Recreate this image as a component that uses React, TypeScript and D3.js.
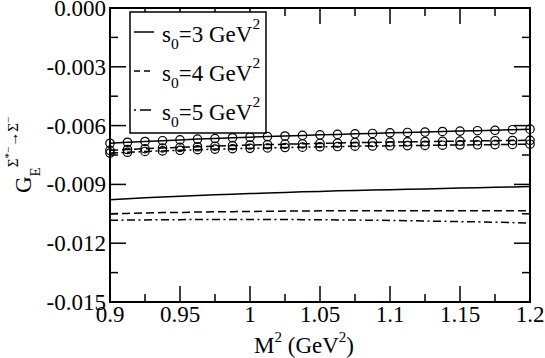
import React from "react";
import * as d3 from "d3";

// M^2 grid (GeV^2)
const M2 = [0.9, 0.9125, 0.925, 0.9375, 0.95, 0.9625, 0.975, 0.9875, 1.0, 1.0125, 1.025, 1.0375, 1.05,
  1.0625, 1.075, 1.0875, 1.1, 1.1125, 1.125, 1.1375, 1.15, 1.1625, 1.175, 1.1875, 1.2];

// plain curves
const s3Line = [-0.00978, -0.00973, -0.00968, -0.00964, -0.0096, -0.00956, -0.00953, -0.0095, -0.00947,
  -0.00944, -0.00941, -0.00938, -0.00936, -0.00933, -0.00931, -0.00929, -0.00927, -0.00925, -0.00923,
  -0.00921, -0.00919, -0.00917, -0.00915, -0.00913, -0.00911];
const s4Line = [-0.0105, -0.01048, -0.01046, -0.01044, -0.01043, -0.01041, -0.0104, -0.01039, -0.01038,
  -0.01037, -0.01036, -0.01036, -0.01035, -0.01035, -0.01034, -0.01034, -0.01034, -0.01034, -0.01034,
  -0.01034, -0.01034, -0.01034, -0.01034, -0.01034, -0.01035];
const s5Line = [-0.01083, -0.01082, -0.01081, -0.0108, -0.0108, -0.01079, -0.01079, -0.01079, -0.01079,
  -0.01079, -0.01079, -0.0108, -0.0108, -0.01081, -0.01082, -0.01083, -0.01084, -0.01085, -0.01087,
  -0.01088, -0.0109, -0.01091, -0.01093, -0.01095, -0.01097];

// curves with circle markers
const s3Circ = [-0.0069, -0.00685, -0.00681, -0.00677, -0.00673, -0.00669, -0.00666, -0.00662, -0.00659,
  -0.00656, -0.00653, -0.0065, -0.00647, -0.00645, -0.00642, -0.0064, -0.00637, -0.00635, -0.00633,
  -0.0063, -0.00628, -0.00626, -0.00624, -0.00621, -0.00618];
const s4Circ = [-0.00726, -0.00722, -0.00718, -0.00714, -0.00711, -0.00708, -0.00705, -0.00702, -0.00699,
  -0.00697, -0.00695, -0.00693, -0.00691, -0.00689, -0.00687, -0.00686, -0.00684, -0.00683, -0.00682,
  -0.0068, -0.00679, -0.00678, -0.00677, -0.00676, -0.00675];
const s5Circ = [-0.0074, -0.00736, -0.00732, -0.00729, -0.00726, -0.00723, -0.0072, -0.00718, -0.00716,
  -0.00714, -0.00712, -0.0071, -0.00708, -0.00707, -0.00705, -0.00704, -0.00703, -0.00702, -0.00701,
  -0.007, -0.00699, -0.00698, -0.00697, -0.00696, -0.00695];

const xTicks = [0.9, 0.95, 1.0, 1.05, 1.1, 1.15, 1.2];
const xTickLabels = ["0.9", "0.95", "1", "1.05", "1.1", "1.15", "1.2"];
const xMinor = [0.925, 0.975, 1.025, 1.075, 1.125, 1.175];
const yTicks = [0, -0.003, -0.006, -0.009, -0.012, -0.015];
const yTickLabels = ["0.000", "-0.003", "-0.006", "-0.009", "-0.012", "-0.015"];
const yMinor = [-0.0015, -0.0045, -0.0075, -0.0105, -0.0135];
const legendValues = ["3", "4", "5"];

const W = 545, H = 358;
const L = 110, R = 530, T = 8, B = 302;
const FONT = '"Liberation Serif", "Times New Roman", "DejaVu Serif", serif';
const DASH = "8,4";
const DASHDOT = "8,3.5,2,3.5";
const tStyle: React.CSSProperties = { fontFamily: FONT };

export default function App() {
  const x = d3.scaleLinear().domain([0.9, 1.2]).range([L, R]);
  const y = d3.scaleLinear().domain([-0.015, 0]).range([B, T]);
  const line = d3.line<number>().x((_, i) => x(M2[i])).y((d) => y(d));

  const plain = [
    { v: s3Line, dash: undefined },
    { v: s4Line, dash: DASH },
    { v: s5Line, dash: DASHDOT },
  ];
  const circ = [
    { v: s3Circ, dash: undefined },
    { v: s4Circ, dash: DASH },
    { v: s5Circ, dash: DASHDOT },
  ];
  const MAJ = 16, MIN = 8;

  return (
    <svg width={W} height={H} style={{ position: "absolute", left: 0, top: 0, background: "#fff", fontFamily: FONT }}>
      <rect x={0} y={0} width={W} height={H} fill="#fff" />
      {/* data lines */}
      {plain.map((s, k) => (
        <path key={"p" + k} d={line(s.v) || ""} fill="none" stroke="#000" strokeWidth={1.5}
          strokeDasharray={s.dash} />
      ))}
      {circ.map((s, k) => (
        <g key={"c" + k}>
          <path d={line(s.v) || ""} fill="none" stroke="#000" strokeWidth={1.5} strokeDasharray={s.dash} />
          {s.v.map((d, i) => (
            <circle key={i} cx={x(M2[i])} cy={y(d)} r={4.2} fill="none" stroke="#000" strokeWidth={1.2} />
          ))}
        </g>
      ))}
      {/* ticks */}
      {xTicks.map((t) => (
        <g key={"xt" + t}>
          <line x1={x(t)} x2={x(t)} y1={B} y2={B - MAJ} stroke="#000" strokeWidth={1.5} />
          <line x1={x(t)} x2={x(t)} y1={T} y2={T + MAJ} stroke="#000" strokeWidth={1.5} />
        </g>
      ))}
      {xMinor.map((t) => (
        <g key={"xm" + t}>
          <line x1={x(t)} x2={x(t)} y1={B} y2={B - MIN} stroke="#000" strokeWidth={1.5} />
          <line x1={x(t)} x2={x(t)} y1={T} y2={T + MIN} stroke="#000" strokeWidth={1.5} />
        </g>
      ))}
      {yTicks.map((t) => (
        <g key={"yt" + t}>
          <line x1={L} x2={L + MAJ} y1={y(t)} y2={y(t)} stroke="#000" strokeWidth={1.5} />
          <line x1={R} x2={R - MAJ} y1={y(t)} y2={y(t)} stroke="#000" strokeWidth={1.5} />
        </g>
      ))}
      {yMinor.map((t) => (
        <g key={"ym" + t}>
          <line x1={L} x2={L + MIN} y1={y(t)} y2={y(t)} stroke="#000" strokeWidth={1.5} />
          <line x1={R} x2={R - MIN} y1={y(t)} y2={y(t)} stroke="#000" strokeWidth={1.5} />
        </g>
      ))}
      <rect x={L} y={T} width={R - L} height={B - T} fill="none" stroke="#000" strokeWidth={2} />
      {/* tick labels */}
      {xTicks.map((t, i) => (
        <text key={"xl" + t} x={x(t)} y={B + 20} fontSize={23} textAnchor="middle" style={tStyle}>{xTickLabels[i]}</text>
      ))}
      {yTicks.map((t, i) => (
        <text key={"yl" + t} x={L - 4} y={y(t) + 8} fontSize={23} textAnchor="end" style={tStyle}>{yTickLabels[i]}</text>
      ))}
      {/* axis titles */}
      <text x={304} y={353} fontSize={23} textAnchor="middle" style={tStyle}>
        M<tspan dy={-11} fontSize={15}>2</tspan><tspan dy={11} fontSize={23}> (GeV</tspan>
        <tspan dy={-11} fontSize={15}>2</tspan><tspan dy={11} fontSize={23}>)</tspan>
      </text>
      <text transform={`translate(31,${(T + B) / 2}) rotate(-90)`} fontSize={23} textAnchor="middle" style={tStyle}>
        G<tspan dy={9} fontSize={15}>E</tspan>
        <tspan dy={-22} fontSize={15}>Σ</tspan>
        <tspan dy={-6} fontSize={11}>*−</tspan>
        <tspan dy={6} fontSize={15}>→Σ</tspan>
        <tspan dy={-6} fontSize={11}>−</tspan>
      </text>
      {/* legend */}
      <rect x={130} y={12} width={136} height={121} fill="#fff" stroke="#000" strokeWidth={1.5} />
      {legendValues.map((v, k) => {
        const by = 42 + k * 39;
        const dash = k === 0 ? undefined : k === 1 ? "6,4" : "2,4,9,0";
        return (
          <g key={"lg" + k}>
            <line x1={134} x2={154} y1={by - 10} y2={by - 10} stroke="#000" strokeWidth={1.5}
              strokeDasharray={dash} />
            <text x={162} y={by} fontSize={23} style={tStyle}>
              s<tspan dy={7} fontSize={15.5}>0</tspan>
              <tspan dy={-7} fontSize={23}>={v} GeV</tspan>
              <tspan dy={-13} fontSize={15.5}>2</tspan>
            </text>
          </g>
        );
      })}
    </svg>
  );
}
